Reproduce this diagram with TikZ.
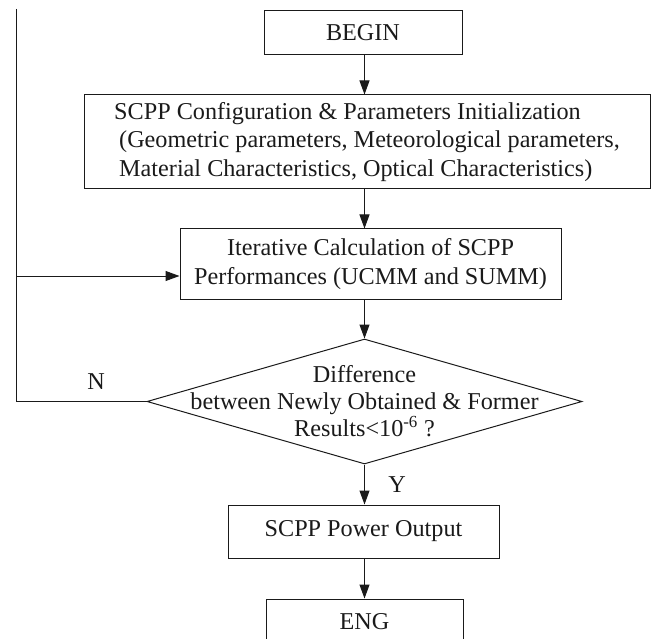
\documentclass[tikz,border=0pt]{standalone}
\usepackage{fontspec}
\setmainfont{Liberation Serif}
\usetikzlibrary{arrows.meta,shapes.geometric}
\definecolor{scppInk}{HTML}{1A1A1A}
\tikzset{
  scpp box/.style={draw=scppInk, line width=1pt, inner sep=4pt, font=\fontsize{24.2}{28.5}\selectfont, text=scppInk},
  scpp decision/.style={diamond, draw=scppInk, line width=1pt, inner sep=0pt, minimum width=435pt, minimum height=125pt},
  scpp flow/.style={draw=scppInk, line width=1pt, -{Triangle[length=14pt,width=10pt]}},
  scpp line/.style={draw=scppInk, line width=1pt},
  scpp label/.style={font=\fontsize{24.2}{27}\selectfont, text=scppInk},
}
\begin{document}
\begin{tikzpicture}[x=1pt,y=-1pt]
\useasboundingbox(0,0)rectangle(656,639);
\node[scpp box,minimum width=198,minimum height=44](begin)at(363,33){BEGIN};
\node[scpp box,minimum width=566,minimum height=94,align=left](cfg)at(367,142){SCPP Configuration \& Parameters Initialization\\\hspace*{5pt}(Geometric parameters, Meteorological parameters,\\\hspace*{5pt}Material Characteristics, Optical Characteristics)};
\node[scpp box,minimum width=381,minimum height=70,align=center](iter)at(370.5,264){Iterative Calculation of SCPP\\Performances (UCMM and SUMM)};
\node[scpp decision,label={[scpp label,align=center]center:{Difference\\between Newly Obtained \& Former\\Results<10\textsuperscript{-6} ?}}](check)at(364.5,401.5){};
\node[scpp box,minimum width=271,minimum height=53](power)at(363.5,531.5){SCPP Power Output};
\node[scpp box,minimum width=197,minimum height=46](eng)at(364.5,622){ENG};
% main flow
\coordinate(axis)at(364.5,0);
\draw[scpp flow](begin.south-|axis)--(cfg.north-|axis);
\draw[scpp flow](cfg.south-|axis)--(iter.north-|axis);
\draw[scpp flow](iter.south-|axis)--(check.north);
\draw[scpp flow](check.south)--(power.north-|axis);
\draw[scpp flow](power.south-|axis)--(eng.north-|axis);
% loop back on N
\coordinate(loop top)at(16,9);\coordinate(loop in)at(16,276);
\draw[scpp line](loop top)--(loop top|-check.west)--(check.west);
\draw[scpp flow](loop in)--(iter.west|-loop in);
\node[scpp label](no)at(96,382){N};\node[scpp label](yes)at(397,485){Y};
\end{tikzpicture}
\end{document}
